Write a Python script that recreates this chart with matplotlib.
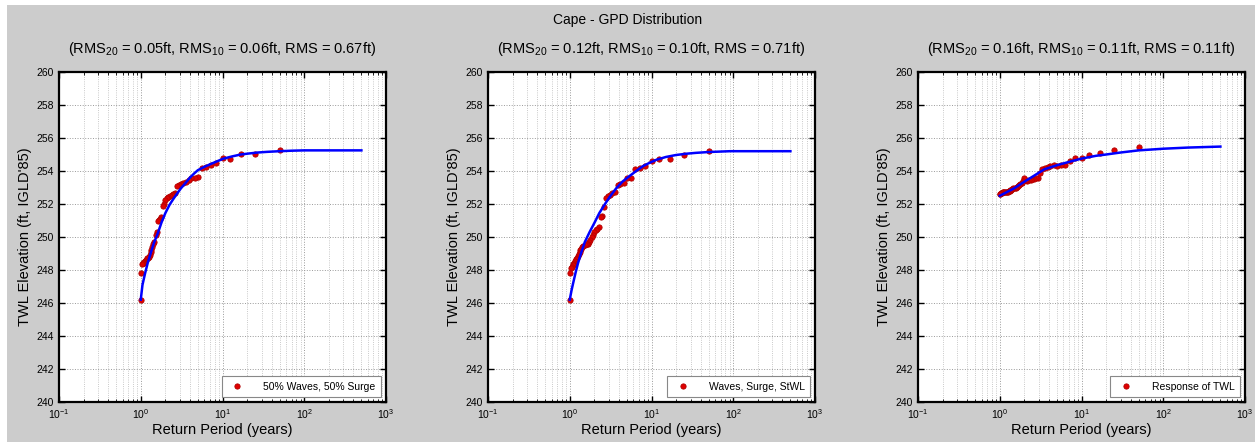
import matplotlib
matplotlib.use("Agg")
from matplotlib import pyplot as plt
from matplotlib.patches import Rectangle
from matplotlib.ticker import LogLocator, NullFormatter

plt.rcParams['font.family'] = ['Liberation Sans', 'DejaVu Sans']
plt.rcParams['mathtext.default'] = 'regular'

# return periods of the observed points (years)
return_period = [50, 25, 16.67, 12.5, 10, 8.33, 7.14, 6.25, 5.56, 5.0,
                 4.55, 4.17, 3.85, 3.57, 3.33, 3.13, 2.94, 2.78, 2.63, 2.5,
                 2.38, 2.27, 2.17, 2.08, 2.0, 1.92, 1.85, 1.79, 1.72, 1.67,
                 1.61, 1.56, 1.52, 1.47, 1.43, 1.39, 1.35, 1.32, 1.28, 1.25,
                 1.22, 1.19, 1.16, 1.14, 1.11, 1.09, 1.06, 1.04, 1.02, 1.0]

# observed TWL (ft) per panel
twl_waves_surge = [255.27, 255.05, 255.05, 254.75, 254.78, 254.5, 254.35, 254.25, 254.2, 253.65,
                   253.6, 253.55, 253.45, 253.35, 253.3, 253.2, 253.15, 253.1, 252.65, 252.6,
                   252.55, 252.5, 252.45, 252.35, 252.25, 252.0, 251.9, 251.2, 251.1, 251.05,
                   251.0, 250.3, 250.1, 249.7, 249.6, 249.4, 249.2, 249.1, 248.9, 248.8,
                   248.7, 248.7, 248.6, 248.55, 248.5, 248.45, 248.4, 248.35, 247.8, 246.2]
twl_stwl = [255.2, 255.0, 254.73, 254.75, 254.6, 254.3, 254.2, 254.15, 253.6, 253.55,
            253.25, 253.2, 253.15, 252.7, 252.65, 252.55, 252.5, 252.35, 251.8, 251.3,
            251.2, 250.6, 250.5, 250.4, 250.3, 250.1, 250.0, 249.8, 249.7, 249.6,
            249.55, 249.55, 249.5, 249.45, 249.4, 249.3, 249.2, 249.1, 249.0, 248.85,
            248.75, 248.65, 248.55, 248.45, 248.35, 248.3, 248.2, 248.1, 247.8, 246.2]
twl_response = [255.44, 255.25, 255.1, 254.95, 254.8, 254.8, 254.6, 254.35, 254.35, 254.3,
                254.35, 254.3, 254.25, 254.2, 254.15, 253.9, 253.6, 253.55, 253.5, 253.5,
                253.45, 253.45, 253.4, 253.45, 253.55, 253.4, 253.25, 253.2, 253.15, 253.1,
                253.05, 253.0, 253.0, 252.95, 252.9, 252.85, 252.85, 252.8, 252.8, 252.75,
                252.75, 252.75, 252.7, 252.7, 252.7, 252.7, 252.65, 252.65, 252.6, 252.6]

# fitted GPD curves
fit_t1 = [1.0, 1.05, 1.13, 1.22, 1.32, 1.45, 1.61, 1.8, 2.0, 2.25, 2.5, 2.8, 3.1, 3.5, 4.0,
          4.5, 5.0, 6.0, 7.0, 8.5, 10.3, 13, 16.7, 21, 27, 35, 50, 70, 100, 200, 500]
fit_y1 = [246.2, 247.1, 247.8, 248.45, 249.0, 249.65, 250.2, 250.9, 251.45, 251.95, 252.3,
          252.65, 252.95, 253.25, 253.6, 253.85, 254.05, 254.25, 254.4, 254.58, 254.75,
          254.88, 255.0, 255.06, 255.12, 255.16, 255.2, 255.23, 255.25, 255.25, 255.25]
fit_t2 = [1.0, 1.05, 1.1, 1.18, 1.26, 1.38, 1.53, 1.75, 2.0, 2.3, 2.7, 3.1, 3.7, 4.4, 5.4,
          6.5, 7.9, 9.5, 11.5, 15, 20, 27, 35, 50, 91, 200, 500]
fit_y2 = [246.2, 246.75, 247.2, 247.85, 248.4, 249.05, 249.7, 250.3, 250.85, 251.45, 252.0,
          252.45, 252.95, 253.35, 253.7, 254.0, 254.3, 254.5, 254.68, 254.85, 254.97, 255.05,
          255.1, 255.15, 255.2, 255.2, 255.2]
fit_t3 = [1.0, 1.5, 2.0, 2.7, 3.5, 5.0, 7.0, 10, 15, 20, 30, 50, 100, 200, 500]
fit_y3 = [252.5, 252.95, 253.35, 253.75, 254.1, 254.35, 254.55, 254.75, 254.92, 255.0,
          255.12, 255.25, 255.35, 255.42, 255.48]

titles = ["(RMS$_{20}$ = 0.05ft, RMS$_{10}$ = 0.06ft, RMS = 0.67ft)",
          "(RMS$_{20}$ = 0.12ft, RMS$_{10}$ = 0.10ft, RMS = 0.71ft)",
          "(RMS$_{20}$ = 0.16ft, RMS$_{10}$ = 0.11ft, RMS = 0.11ft)"]
legend_labels = ["50% Waves, 50% Surge", "Waves, Surge, StWL", "Response of TWL"]


def draw_panel(ax, obs, fit_t, fit_y, title, label):
    ax.plot(return_period, obs, 'o', color='#e00000', markeredgecolor='#b00000',
            markeredgewidth=0.6, markersize=3.8, label=label, zorder=3)
    ax.plot(fit_t, fit_y, '-', color='blue', linewidth=1.8, zorder=4)
    ax.set_xscale('log')
    ax.set(xlim=(0.1, 1000), ylim=(240, 260), yticks=range(240, 261, 2))
    ax.xaxis.set_major_locator(LogLocator(base=10, numticks=10))
    ax.xaxis.set_minor_locator(LogLocator(base=10, subs=range(2, 10), numticks=20))
    ax.xaxis.set_minor_formatter(NullFormatter())
    ax.grid(True, which='major', color='#999999', linestyle=':', linewidth=0.7)
    ax.grid(True, which='minor', axis='x', color='#b8b8b8', linestyle=':', linewidth=0.6)
    ax.tick_params(which='both', direction='in', top=True, right=True, labelsize=7.5)
    ax.tick_params(which='major', length=4, width=1)
    ax.tick_params(which='minor', length=2)
    for s in ax.spines.values():
        s.set_linewidth(1.6)
    ax.set_xlabel("Return Period (years)", fontsize=10.5, labelpad=2)
    ax.set_ylabel("TWL Elevation (ft, IGLD'85)", fontsize=10.5, labelpad=3)
    ax.set_title(title, fontsize=10.5, pad=14)
    leg = ax.legend(loc='lower right', fontsize=7.5, fancybox=False, framealpha=1,
                    edgecolor='#888888', borderpad=0.5, handletextpad=1.5,
                    borderaxespad=0.5)
    leg.get_frame().set_linewidth(0.8)


fig = plt.figure(figsize=(12.55, 4.42), dpi=100, facecolor='white')
fig.patches.append(Rectangle((7 / 1255, 0), 1, 1 - 5 / 442, transform=fig.transFigure,
                             facecolor='#cccccc', edgecolor='none', zorder=-10))

lefts = [59 / 1255, 488 / 1255, 918 / 1255]
data_sets = [(twl_waves_surge, fit_t1, fit_y1), (twl_stwl, fit_t2, fit_y2),
             (twl_response, fit_t3, fit_y3)]
for i in range(3):
    ax = fig.add_axes([lefts[i], 40 / 442, 327 / 1255, 330 / 442])
    obs, ft, fy = data_sets[i]
    draw_panel(ax, obs, ft, fy, titles[i], legend_labels[i])

fig.text(0.5, 1 - 20 / 442, "Cape - GPD Distribution", ha='center', va='center', fontsize=10)

fig.savefig('out.png', dpi=100, facecolor=fig.get_facecolor())
